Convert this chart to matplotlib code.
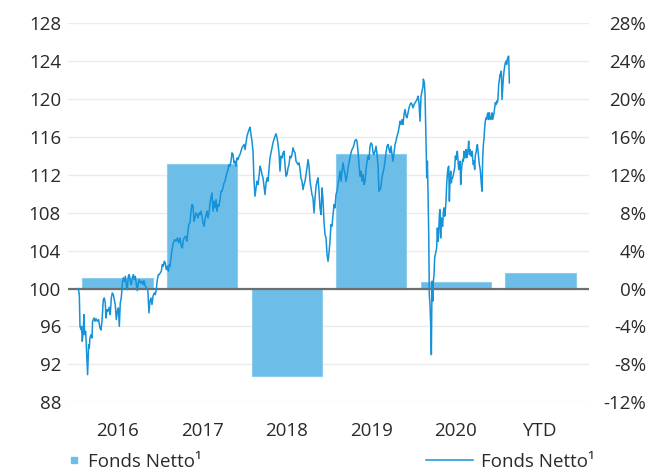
import matplotlib
matplotlib.use("Agg")
import matplotlib.pyplot as plt
from matplotlib.lines import Line2D

# Jahresperformance (rechte Achse, in %)
categories = ["2016", "2017", "2018", "2019", "2020", "YTD"]
bar_pct = [1.15, 13.1, -9.25, 14.2, 0.7, 1.65]

# Indexierte Wertentwicklung (linke Achse), Zeit in Jahren seit Start
nav_t = [
    0.000, 0.012, 0.020, 0.032, 0.039, 0.047, 0.059, 0.067, 0.075, 0.087,
    0.099, 0.110, 0.122, 0.130, 0.138, 0.150, 0.162, 0.169, 0.185, 0.197,
    0.209, 0.225, 0.240, 0.256, 0.268, 0.280, 0.296, 0.307, 0.319, 0.327,
    0.339, 0.351, 0.366, 0.378, 0.390, 0.402, 0.414, 0.426, 0.437, 0.449,
    0.461, 0.473, 0.485, 0.496, 0.508, 0.520, 0.532, 0.544, 0.556, 0.567,
    0.579, 0.591, 0.603, 0.615, 0.626, 0.638, 0.650, 0.662, 0.674, 0.686,
    0.697, 0.709, 0.721, 0.733, 0.749, 0.764, 0.776, 0.792, 0.808, 0.823,
    0.835, 0.847, 0.859, 0.871, 0.883, 0.898, 0.910, 0.922, 0.934, 0.946,
    0.957, 0.969, 0.981, 0.993, 1.005, 1.017, 1.028, 1.040, 1.052, 1.064,
    1.076,
    # 2017
    1.084, 1.104, 1.123, 1.139, 1.155, 1.171, 1.186, 1.202, 1.218, 1.230,
    1.242, 1.257, 1.273, 1.281, 1.293, 1.305, 1.320, 1.332, 1.344, 1.356,
    1.368, 1.379, 1.391, 1.403, 1.415, 1.427, 1.439, 1.450, 1.462, 1.474,
    1.486, 1.498, 1.510, 1.521, 1.533, 1.545, 1.557, 1.569, 1.580, 1.592,
    1.604, 1.616, 1.628, 1.640, 1.651, 1.663, 1.675, 1.687, 1.699, 1.710,
    1.722, 1.734, 1.746, 1.758, 1.770, 1.781, 1.793, 1.805, 1.817, 1.829,
    1.840, 1.852, 1.864, 1.876, 1.888, 1.900, 1.911, 1.923, 1.935, 1.947,
    1.959, 1.971, 1.982, 1.994, 2.006, 2.018, 2.030, 2.041, 2.053, 2.065,
    # 2018
    2.077, 2.089, 2.101, 2.112, 2.124, 2.136, 2.148, 2.160, 2.171, 2.183,
    2.195, 2.207, 2.219, 2.231, 2.242, 2.254, 2.266, 2.278, 2.290, 2.301,
    2.313, 2.325, 2.337, 2.349, 2.361, 2.372, 2.384, 2.396, 2.408, 2.420,
    2.431, 2.443, 2.455, 2.467, 2.479, 2.491, 2.502, 2.514, 2.526, 2.538,
    2.550, 2.562, 2.573, 2.585, 2.597, 2.609, 2.621, 2.632, 2.644, 2.656,
    2.668, 2.680, 2.692, 2.703, 2.715, 2.727, 2.739, 2.751, 2.762, 2.774,
    2.786, 2.798, 2.810, 2.822, 2.833, 2.845, 2.857, 2.869, 2.881, 2.892,
    2.904, 2.916, 2.928, 2.940, 2.952, 2.963, 2.975, 2.987, 2.999,
    # 2019
    3.011, 3.023, 3.034, 3.046, 3.058, 3.070, 3.082, 3.093, 3.105, 3.117,
    3.129, 3.141, 3.153, 3.164, 3.176, 3.188, 3.200, 3.212, 3.223, 3.235,
    3.247, 3.259, 3.271, 3.283, 3.294, 3.306, 3.318, 3.330, 3.342, 3.353,
    3.365, 3.377, 3.389, 3.401, 3.413, 3.424, 3.436, 3.448, 3.460, 3.472,
    3.484, 3.495, 3.507, 3.519, 3.531, 3.543, 3.554, 3.566, 3.578, 3.590,
    3.602, 3.614, 3.625, 3.637, 3.649, 3.661, 3.673, 3.684, 3.696, 3.708,
    3.720, 3.732, 3.744, 3.755, 3.767, 3.779, 3.791, 3.803, 3.814, 3.826,
    3.838, 3.850, 3.862, 3.874, 3.885, 3.897, 3.909, 3.921, 3.933, 3.945,
    3.956, 3.968, 3.980, 3.992, 4.004, 4.015, 4.027, 4.039, 4.051, 4.063,
    4.075,
    # 2020
    4.078, 4.090, 4.098, 4.106, 4.114, 4.118, 4.126, 4.134, 4.142, 4.149,
    4.157, 4.165, 4.173, 4.181, 4.189, 4.197, 4.205, 4.212, 4.220, 4.228,
    4.236, 4.244, 4.252, 4.260, 4.268, 4.275, 4.283, 4.291, 4.299, 4.307,
    4.315, 4.323, 4.331, 4.338, 4.346, 4.354, 4.362, 4.370, 4.378, 4.386,
    4.394, 4.402, 4.409, 4.417, 4.425, 4.433, 4.441, 4.449, 4.457, 4.465,
    4.472, 4.480, 4.488, 4.496, 4.504, 4.512, 4.520, 4.528, 4.535, 4.543,
    4.551, 4.559, 4.567, 4.575, 4.583, 4.591, 4.598, 4.606, 4.614, 4.622,
    4.630, 4.638, 4.646, 4.654, 4.662, 4.669, 4.677, 4.685, 4.693, 4.701,
    4.709, 4.717, 4.725, 4.732, 4.740, 4.748, 4.756, 4.764, 4.772, 4.780,
    4.788, 4.796, 4.803, 4.811, 4.819, 4.827, 4.835, 4.843, 4.851, 4.859,
    4.866, 4.874, 4.882, 4.890, 4.898, 4.906, 4.914, 4.922, 4.929, 4.937,
    4.945, 4.953, 4.961, 4.969, 4.977, 4.985, 4.992, 5.000, 5.008, 5.016,
    5.024, 5.032, 5.040, 5.048, 5.056, 5.063, 5.071, 5.079, 5.087, 5.095,
]
nav = [
    100.00, 99.37, 96.02, 95.67, 96.02, 94.44, 95.49, 97.25, 95.14, 95.49,
    93.03, 90.92, 94.08, 93.73, 94.79, 95.14, 94.79, 96.55, 96.90, 96.55,
    96.83, 96.55, 96.73, 95.85, 95.63, 96.55, 98.84, 99.01, 98.49, 96.90,
    97.78, 97.61, 98.03, 97.25, 99.01, 99.54, 99.37, 98.84, 98.31, 96.73,
    97.61, 97.96, 96.02, 98.49, 99.01, 100.42, 101.13, 100.77, 101.30, 100.42,
    99.89, 101.30, 101.48, 100.77, 100.42, 101.13, 101.48, 100.95, 101.30, 100.42,
    99.79, 100.60, 100.95, 100.60, 100.77, 100.42, 100.85, 100.25, 100.07, 99.72,
    97.43, 98.66, 99.01, 98.31, 99.19, 99.54, 99.37, 99.89, 100.95, 101.48,
    101.48, 101.65, 101.83, 102.54, 102.36, 102.89, 102.71, 102.01, 102.36, 101.83,
    102.54,
    # 2017
    102.36, 103.94, 104.82, 105.17, 105.00, 105.35, 104.82, 105.35, 104.47, 104.29,
    105.17, 105.42, 105.52, 105.00, 105.70, 106.76, 106.93, 108.17, 108.87, 108.69,
    107.11, 107.46, 107.99, 107.81, 107.46, 107.99, 107.81, 108.17, 107.64, 106.93,
    106.58, 107.29, 107.81, 108.17, 107.46, 107.99, 109.05, 109.57, 110.10, 108.17,
    109.22, 108.52, 109.40, 108.17, 108.87, 108.69, 109.40, 110.28, 110.28, 110.63,
    111.15, 111.33, 111.86, 112.22, 112.57, 113.09, 112.92, 113.45, 114.33, 114.15,
    113.27, 113.45, 112.92, 113.80, 113.62, 113.97, 114.15, 114.50, 114.86, 115.03,
    115.21, 114.68, 115.38, 116.09, 116.43, 116.79, 117.04, 116.27, 115.56, 114.50,
    # 2018
    111.33, 109.75, 110.63, 111.33, 110.98, 111.86, 112.92, 112.57, 112.04, 111.69,
    110.81, 109.93, 111.15, 111.69, 111.33, 112.57, 113.80, 114.33, 114.86, 115.38,
    115.74, 116.09, 116.34, 115.91, 115.21, 114.33, 112.39, 113.98, 113.80, 114.33,
    114.50, 113.09, 111.86, 112.04, 112.74, 113.09, 113.98, 113.80, 114.15, 114.86,
    114.50, 114.33, 113.45, 113.27, 113.09, 113.27, 112.57, 111.69, 111.33, 110.45,
    110.98, 111.33, 112.04, 112.74, 113.62, 112.92, 111.33, 110.63, 109.93, 109.57,
    107.99, 109.57, 110.81, 111.33, 111.69, 110.28, 108.52, 107.81, 110.63, 109.40,
    107.11, 105.70, 105.35, 103.59, 102.88, 103.77, 105.00, 106.76, 106.58,
    # 2019
    107.81, 108.87, 108.52, 109.93, 110.28, 110.98, 111.69, 112.39, 111.33, 112.39,
    113.27, 112.57, 112.04, 111.33, 111.86, 112.74, 113.27, 113.80, 114.33, 114.68,
    114.86, 115.21, 115.63, 115.74, 115.56, 114.50, 113.09, 111.86, 112.39, 111.33,
    112.04, 110.98, 111.33, 112.57, 113.45, 113.98, 113.62, 115.03, 115.38, 115.21,
    114.33, 114.15, 114.50, 115.03, 114.15, 112.92, 110.28, 110.46, 110.81, 111.86,
    112.22, 112.74, 113.45, 114.33, 115.03, 115.21, 114.68, 114.33, 115.03, 114.15,
    113.45, 114.33, 115.21, 115.56, 116.09, 116.43, 116.97, 117.67, 117.32, 117.84,
    117.32, 118.38, 118.91, 118.20, 118.03, 118.55, 119.08, 119.43, 119.61, 119.43,
    119.08, 119.43, 119.61, 119.79, 119.96, 120.31, 119.61, 117.67, 120.31, 120.84,
    121.37,
    # 2020
    122.11, 121.76, 120.53, 117.32, 113.80, 111.69, 113.45, 109.93, 105.70, 99.36,
    98.31, 96.19, 93.03, 100.77, 98.66, 100.77, 101.48, 103.24, 103.59, 103.94,
    104.29, 106.40, 104.99, 106.05, 107.81, 108.34, 105.35, 107.46, 106.76, 106.58,
    108.17, 108.52, 107.64, 108.17, 109.22, 110.98, 112.04, 112.74, 112.92, 109.22,
    111.69, 112.39, 111.16, 111.69, 111.69, 112.04, 112.39, 112.74, 113.98, 113.62,
    114.15, 114.50, 113.45, 112.57, 112.74, 113.45, 110.98, 112.39, 113.09, 113.62,
    113.45, 114.50, 113.80, 114.15, 114.68, 113.80, 114.50, 114.50, 115.56, 114.15,
    114.68, 114.15, 113.98, 114.50, 113.62, 113.09, 113.45, 112.57, 114.15, 114.33,
    114.86, 115.21, 114.50, 113.80, 113.09, 112.74, 112.04, 110.98, 110.28, 113.80,
    115.21, 115.91, 116.97, 117.67, 118.03, 117.85, 118.38, 118.55, 117.85, 118.55,
    118.03, 117.85, 118.03, 118.55, 117.85, 118.20, 118.55, 119.08, 119.61, 119.43,
    119.79, 119.61, 120.14, 121.55, 122.07, 122.60, 122.43, 122.95, 119.96, 121.19,
    122.25, 122.95, 123.48, 123.84, 124.01, 123.66, 124.19, 124.43, 124.54, 121.72,
]

left_ticks = list(range(88, 129, 4))
right_ticks = list(range(-12, 29, 4))

BAR_COLOR = "#6cbde8"
LINE_COLOR = "#1592d8"
TEXT_COLOR = "#2a2a2a"

plt.rcParams["font.family"] = ["Open Sans", "DejaVu Sans"]
plt.rcParams["font.size"] = 13.5

fig = plt.figure(figsize=(6.58, 4.72), dpi=100)
ax = fig.add_axes([0.1033, 0.1477, 0.7918, 0.8029])
ax2 = ax.twinx()
ax.set_zorder(ax2.get_zorder() + 1)
ax.patch.set_visible(False)

# Balken (rechte Achse)
x = list(range(len(categories)))
ax2.bar(x, bar_pct, width=0.83, color=BAR_COLOR, edgecolor="#8ccdef",
        linewidth=0.8, zorder=2)
ax2.axhline(0, color="#6e6e6e", lw=1.6, zorder=3)
ax2.set_ylim(-12, 28)
ax2.set_yticks(right_ticks)
ax2.set_yticklabels([f"{v}%" for v in right_ticks], color=TEXT_COLOR)
for lbl in ax2.get_yticklabels():
    lbl.set_horizontalalignment("right")
ax2.tick_params(axis="y", length=0, pad=41)
ax2.grid(axis="y", color="#ebebeb", lw=1.0, zorder=0)
ax2.set_axisbelow(True)

# Linie (linke Achse)
line_x0 = -0.463
ax.plot([line_x0 + t for t in nav_t], nav, color=LINE_COLOR, lw=1.1, zorder=4)
ax.set_ylim(88, 128)
ax.set_yticks(left_ticks)
ax.set_yticklabels([str(v) for v in left_ticks], color=TEXT_COLOR)
ax.tick_params(axis="y", length=0, pad=5)

ax.set_xlim(-0.585, 5.573)
ax.set_xticks(x)
ax.set_xticklabels(categories, color=TEXT_COLOR)
ax.tick_params(axis="x", length=0, pad=14)
ax2.tick_params(axis="x", length=0)

for a in (ax, ax2):
    for s in a.spines.values():
        s.set_visible(False)

# Legenden
bar_handle = Line2D([], [], marker="s", ls="none", color=BAR_COLOR, markersize=5)
line_handle = Line2D([], [], color=LINE_COLOR, lw=1.1)
fig.legend([bar_handle], ["Fonds Netto¹"], loc="center left",
           bbox_to_anchor=(68 / 658, 1 - 462 / 472), frameon=False,
           borderpad=0, borderaxespad=0, handlelength=0.6,
           handletextpad=0.45, labelcolor=TEXT_COLOR)
fig.legend([line_handle], ["Fonds Netto¹"], loc="center left",
           bbox_to_anchor=(426 / 658, 1 - 462 / 472), frameon=False,
           borderpad=0, borderaxespad=0, handlelength=2.5,
           handletextpad=0.45, labelcolor=TEXT_COLOR)

fig.savefig("out.png", dpi=100)
